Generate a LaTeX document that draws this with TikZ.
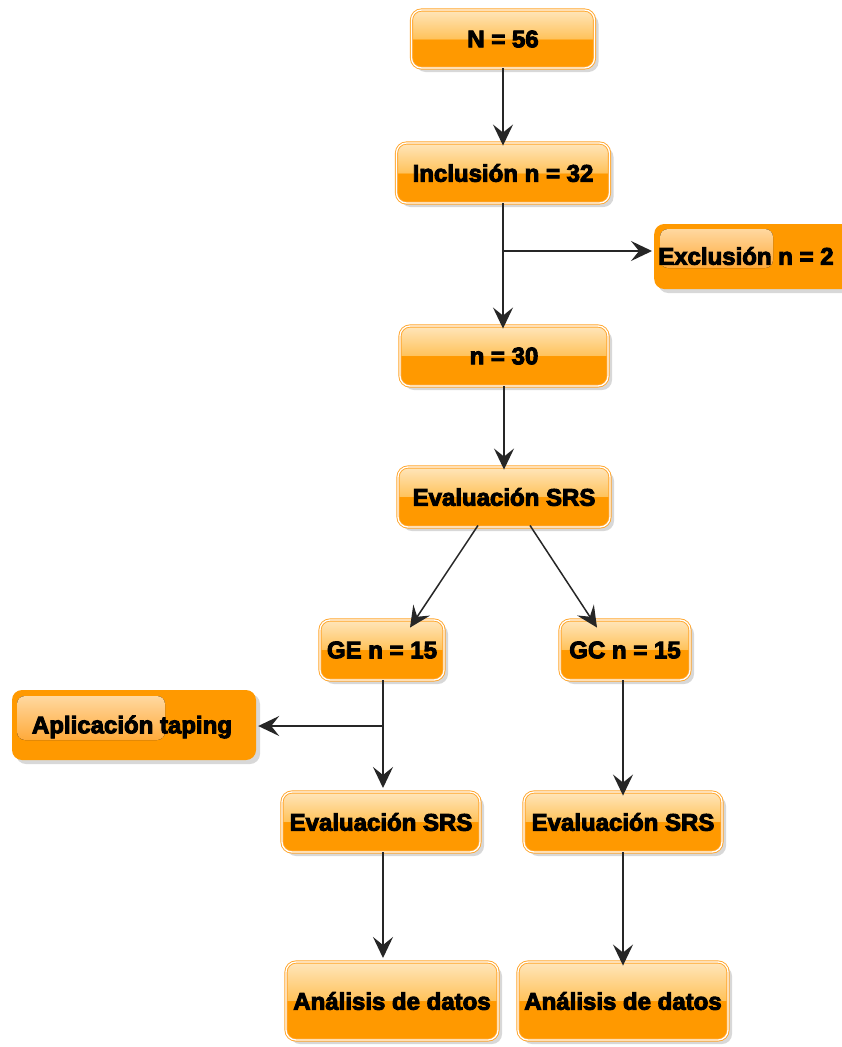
\documentclass[tikz,border=0pt]{standalone}
\usepackage{fontspec}
\newfontfamily\boxfont{Liberation Sans Bold}[FakeBold=4]
\usetikzlibrary{arrows.meta,shadows,calc}
\definecolor{gbot}{HTML}{FF9900}
\definecolor{gmid}{HTML}{FFC25A}
\definecolor{gtop}{HTML}{FFE6BC}
\definecolor{gborder}{HTML}{FFA52A}
\definecolor{hltop}{HTML}{FFD8A0}
\definecolor{hlbot}{HTML}{FFAA3A}
\pgfdeclareverticalshading{glossy}{100bp}{color(0bp)=(gbot); color(50bp)=(gbot); color(50.01bp)=(gmid); color(75bp)=(gtop); color(100bp)=(gtop)}
\tikzset{
  box/.style={rounded corners=10pt, shading=glossy, draw=gborder, double=white, line width=0.9pt, double distance=1.3pt,
    font=\boxfont\fontsize{24}{28}\selectfont, text=black, inner sep=0pt,
    drop shadow={shadow xshift=4pt, shadow yshift=-4pt, opacity=0.3, fill=gray}},
  flatbox/.style={rounded corners=10pt, fill=gbot, draw=none,
    font=\boxfont\fontsize{24}{28}\selectfont, text=black, inner sep=0pt,
    drop shadow={shadow xshift=4pt, shadow yshift=-4pt, opacity=0.3, fill=gray}},
  conn/.style={line width=1.5pt, draw=black!85, -{Stealth[length=21pt,width=20pt,inset=8pt]}},
  hl/.style={rounded corners=8pt, top color=hltop, bottom color=hlbot, draw=none},
  lbl/.style={font=\boxfont\fontsize{24}{28}\selectfont, inner sep=0pt}
}
\begin{document}
\begin{tikzpicture}[x=1pt,y=-1pt]
\useasboundingbox (0,0) rectangle (841,1047);
\fill[white] (0,0) rectangle (841,1047);
% nodes
\node[box, minimum width=183, minimum height=58] (n56) at (503,39) {N = 56};
\node[box, minimum width=213, minimum height=60] (incl) at (503,173) {Inclusión n = 32};
\node[box, minimum width=208, minimum height=60] (n30) at (504,356) {n = 30};
\node[box, minimum width=212, minimum height=60] (ev0) at (504,497) {Evaluación SRS};
\node[box, minimum width=124, minimum height=60] (ge) at (382,650) {GE n = 15};
\node[box, minimum width=130, minimum height=60] (gc) at (625,650) {GC n = 15};
\node[box, minimum width=198, minimum height=60] (evl) at (381,822) {Evaluación SRS};
\node[box, minimum width=198, minimum height=60] (evr) at (623,822) {Evaluación SRS};
\node[box, minimum width=212, minimum height=78] (anl) at (392,1001) {Análisis de datos};
\node[box, minimum width=210, minimum height=78] (anr) at (623,1001) {Análisis de datos};
% flat boxes with highlight
\node[flatbox, minimum width=200, minimum height=65, anchor=west] (excl) at (654,256.5) {};
\fill[hl] (660,229) rectangle (773,268);
\node[lbl, anchor=west] (exclt) at (658,256) {Exclusión n = 2};
\node[flatbox, minimum width=244, minimum height=70] (apl) at (134,725) {};
\fill[hl] (17,696) rectangle (165,740);
\node[lbl] (aplt) at (132,727) {Aplicación taping};
% connectors
\draw[conn] (n56.south) -- ([yshift=-3]incl.north);
\coordinate (br1) at (503,251);
\draw[conn] (incl.south) -- ([yshift=-3]incl.south |- n30.north);
\draw[conn] (br1) -- ([xshift=-2]br1 -| excl.west);
\draw[conn] (n30.south) -- ([yshift=-3]ev0.north);
\draw[conn] ([xshift=-26,yshift=2]ev0.south) -- ([xshift=28,yshift=-8]ge.north);
\draw[conn] ([xshift=26,yshift=2]ev0.south) -- ([xshift=-28,yshift=-8]gc.north);
\coordinate (br2) at (383,726);
\coordinate (evlin) at (383,788);
\coordinate (anlin) at (383,958);
\draw[conn] ([xshift=1]ge.south) -- (evlin);
\draw[conn] (br2) -- ([xshift=2]br2 -| apl.east);
\draw[conn] ([xshift=-2]gc.south) -- ([yshift=-4]evr.north);
\draw[conn] ([xshift=2]evl.south) -- (anlin);
\draw[conn] (evr.south) -- ([yshift=-4]anr.north);
\end{tikzpicture}
\end{document}
